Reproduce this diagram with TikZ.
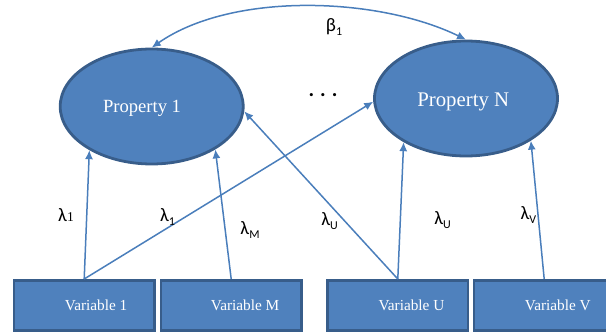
\documentclass[tikz,border=0pt]{standalone}
\usepackage{fontspec}
\setmainfont{Liberation Serif}
\newfontfamily\lamfont{Carlito}
\usetikzlibrary{shapes,arrows.meta,positioning}
\definecolor{boxblue}{HTML}{4F81BD}
\definecolor{edgeblue}{HTML}{385D8A}
\definecolor{linkblue}{HTML}{4A7EBB}
% loading symbol with a raised/lowered index
\newcommand{\lamsub}[2]{#1\raisebox{-0.45ex}{\fontsize{12}{12}\selectfont #2}}

\begin{document}
\begin{tikzpicture}[x=1pt, y=-1pt,
    prop/.style={ellipse, draw=edgeblue, fill=boxblue, line width=2.8pt, minimum width=183pt, minimum height=115pt, inner sep=0pt},
    var/.style={rectangle, draw=edgeblue, fill=boxblue, line width=2.6pt, minimum width=140.4pt, minimum height=50.4pt, inner sep=0pt},
    proptext/.style={text=white, anchor=west, inner sep=0pt},
    vartext/.style={text=white, anchor=west, inner sep=0pt, font=\fontsize{15.3}{16}\selectfont},
    lamlab/.style={font=\lamfont\fontsize{19}{19}\selectfont, inner sep=0pt},
    link/.style={->, linkblue, line width=1.5pt, >={Latex[length=9pt,width=8pt]}}]
\useasboundingbox (0,0) rectangle (606,334);
\clip (0,0) rectangle (606,334);
%============
\node[prop] (p1) at (151.7,106.5) {};
\node[prop] (pN) at (466,98.5) {};
\node[proptext, font=\fontsize{18.6}{20}\selectfont] (p1lab) at ([xshift=44pt]p1.west |- 0,108.5) {Property 1};
\node[proptext, font=\fontsize{20.8}{22}\selectfont] (pNlab) at ([xshift=44pt]pN.west |- 0,102) {Property N};
\node[font=\lamfont\bfseries\fontsize{21}{21}\selectfont] (dots) at (323,95) {.\hspace{6pt}.\hspace{6pt}.};
%============
\node[var] (v1) at (84.2,305.5) {};
\node[var] (vM) at (231.2,305.5) {};
\node[var] (vU) at (397.8,305.5) {};
\node[var] (vV) at (544.2,305.5) {};
\node[vartext] (v1lab) at ([xshift=52pt]v1.west) {Variable 1};
\node[vartext] (vMlab) at ([xshift=51pt]vM.west) {Variable M};
\node[vartext] (vUlab) at ([xshift=52pt]vU.west) {Variable U};
\node[vartext] (vVlab) at ([xshift=52pt]vV.west) {Variable V};
%==========

\draw[link, <->] (p1.north) .. controls +(80,-56) and +(-88,-43) .. (pN.north);
\node[lamlab] (beta) at (334,27) {\lamsub{β}{1}};

\draw[link] (v1.north) -- (p1.-145.5);
\draw[link] (v1.north) -- (pN.-178);
\draw[link] (vM.north) -- (p1.-34.1);
\draw[link] (vU.north) -- (p1.-3);
\draw[link] (vU.north) -- (pN.-145.8);
\draw[link] (vV.north) -- (pN.-33.6);

\node[lamlab] (l1a) at (66,215) {λ{\rmfamily\fontsize{13.5}{13}\selectfont 1}};
\node[lamlab] (l1b) at (167.5,217) {\lamsub{λ}{1}};
\node[lamlab] (lM) at (250,230) {\lamsub{λ}{M}};
\node[lamlab] (lUa) at (329.5,221) {\lamsub{λ}{U}};
\node[lamlab] (lUb) at (442.6,220) {\lamsub{λ}{U}};
\node[lamlab] (lV) at (528.5,215) {\lamsub{λ}{V}};
\end{tikzpicture}
\end{document}
